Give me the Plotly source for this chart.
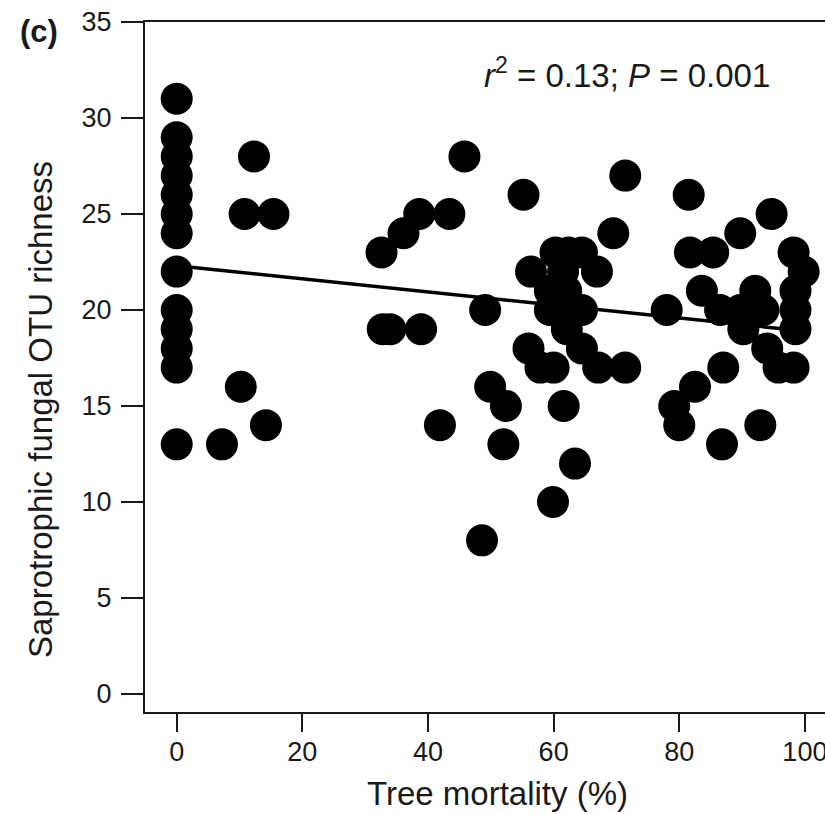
import plotly.graph_objects as go

# Tree mortality (%) and saprotrophic fungal OTU richness
mortality = [
    0, 0, 0, 0, 0, 0, 0, 0, 0, 0, 0, 0, 0,
    12.3, 10.8, 15.4, 10.2, 14.2, 7.2,
    45.8, 32.6, 36.1, 38.6, 43.4, 32.8, 34.0, 38.9, 41.9, 49.1, 49.9, 48.6,
    55.2, 52.4, 52.0,
    60.3, 62.4, 64.5, 69.5, 66.9, 56.4, 61.5, 59.4, 62.0, 59.4, 61.5, 64.5,
    62.1, 64.5, 56.0, 57.9, 60.0, 67.1, 71.4, 61.6, 63.4, 59.9,
    71.4, 81.5, 94.7, 89.7, 81.7, 85.4, 98.2, 99.8, 98.5, 98.5, 98.5, 98.2,
    95.8, 87.0, 83.6, 78.0, 86.5, 89.7, 92.1, 93.4, 90.2, 94.0, 82.5, 79.2,
    80.0, 86.8, 92.9,
]
richness = [
    31, 29, 28, 27, 26, 25, 24, 22, 20, 19, 18, 17, 13,
    28, 25, 25, 16, 14, 13,
    28, 23, 24, 25, 25, 19, 19, 19, 14, 20, 16, 8,
    26, 15, 13,
    23, 23, 23, 24, 22, 22, 22, 21, 21, 20, 20, 20,
    19, 18, 18, 17, 17, 17, 17, 15, 12, 10,
    27, 26, 25, 24, 23, 23, 23, 22, 21, 20, 19, 17,
    17, 17, 21, 20, 20, 20, 21, 20, 19, 18, 16, 15,
    14, 13, 14,
]

# Regression line end points
fit_x = [0, 100]
fit_y = [22.3, 18.9]

x_ticks = [0, 20, 40, 60, 80, 100]
y_ticks = [0, 5, 10, 15, 20, 25, 30, 35]

FONT = "Liberation Sans, Arial, sans-serif"
INK = "#1a1a1a"

W, H = 825, 814
L, R, T, B = 145, 825, 22, 712


def px(xp, yp):
    return (xp - L) / (R - L), (B - yp) / (B - T)


fig = go.Figure()
fig.add_trace(go.Scatter(
    x=fit_x, y=fit_y, mode="lines",
    line=dict(color="black", width=3.5), hoverinfo="skip", showlegend=False,
))
fig.add_trace(go.Scatter(
    x=mortality, y=richness, mode="markers",
    marker=dict(color="black", size=32, line=dict(width=0)),
    showlegend=False,
))

fig.update_layout(
    width=W, height=H,
    margin=dict(l=L, r=W - R, t=T, b=H - B, autoexpand=False),
    paper_bgcolor="white", plot_bgcolor="white",
    font=dict(family=FONT, color=INK, size=27),
    showlegend=False,
)
fig.update_xaxes(
    range=[-5.05, 103.2], tickvals=x_ticks, ticktext=[str(v) for v in x_ticks],
    showgrid=False, zeroline=False, showline=True, linecolor=INK, linewidth=2,
    mirror=True, ticks="outside", ticklen=18, tickwidth=2, tickcolor=INK,
    tickfont=dict(size=27, family=FONT, color=INK), ticklabelstandoff=-3,
    ticklabeloverflow="allow",
)
fig.update_yaxes(
    range=[-0.94, 35], tickvals=y_ticks, ticktext=[str(v) for v in y_ticks],
    showgrid=False, zeroline=False, showline=True, linecolor=INK, linewidth=2,
    mirror=False, ticks="outside", ticklen=22, tickwidth=2, tickcolor=INK,
    tickfont=dict(size=27, family=FONT, color=INK), ticklabelstandoff=4,
    ticklabeloverflow="allow",
)

annos = []
ax, ay = px(627, 73)
annos.append(dict(x=ax, y=ay, xref="paper", yref="paper", showarrow=False,
                  text="<i>r</i><sup>2</sup> = 0.13; <i>P</i> = 0.001",
                  font=dict(size=33, family=FONT, color=INK),
                  xanchor="center", yanchor="middle"))
cx, cy = px(39, 31)
annos.append(dict(x=cx, y=cy, xref="paper", yref="paper", showarrow=False,
                  text="<b>(c)</b>", font=dict(size=31, family=FONT, color=INK),
                  xanchor="center", yanchor="middle"))
tx, ty = px(497, 794)
annos.append(dict(x=tx, y=ty, xref="paper", yref="paper", showarrow=False,
                  text="Tree mortality (%)", font=dict(size=33, family=FONT, color=INK),
                  xanchor="center", yanchor="middle"))
yx, yy = px(40, 410)
annos.append(dict(x=yx, y=yy, xref="paper", yref="paper", showarrow=False,
                  text="Saprotrophic fungal OTU richness", textangle=-90,
                  font=dict(size=33, family=FONT, color=INK),
                  xanchor="center", yanchor="middle"))
fig.update_layout(annotations=annos)

fig.write_html("out.html")
